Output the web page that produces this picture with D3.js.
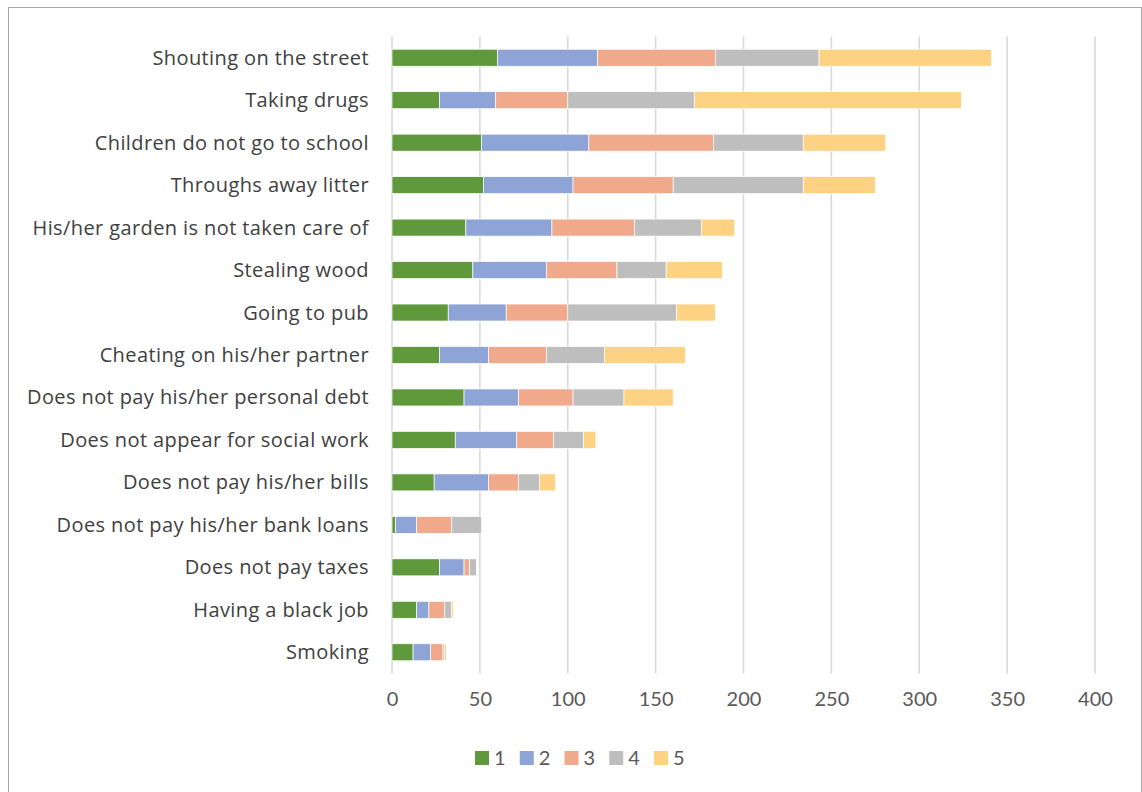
<!DOCTYPE html>
<html>
<head>
<meta charset="utf-8">
<script src="https://cdn.jsdelivr.net/npm/d3@7"></script>
<style>
  html, body { margin: 0; padding: 0; background: #fff; }
  svg { display: block; }
  text { font-family: Lato, "Open Sans", sans-serif; }
</style>
</head>
<body>
<svg id="chart" width="1142" height="792"></svg>
<script>
// Behaviours, listed top to bottom
const categories = [
  "Shouting on the street",
  "Taking drugs",
  "Children do not go to school",
  "Throughs away litter",
  "His/her garden is not taken care of",
  "Stealing wood",
  "Going to pub",
  "Cheating on his/her partner",
  "Does not pay his/her personal debt",
  "Does not appear for social work",
  "Does not pay his/her bills",
  "Does not pay his/her bank loans",
  "Does not pay taxes",
  "Having a black job",
  "Smoking"
];

// Rating series 1..5, one value per behaviour
const series1 = [60, 27, 51, 52, 42, 46, 32, 27, 41, 36, 24, 2, 27, 14, 12];
const series2 = [57, 32, 61, 51, 49, 42, 33, 28, 31, 35, 31, 12, 14, 7, 10];
const series3 = [67, 41, 71, 57, 47, 40, 35, 33, 31, 21, 17, 20, 3, 9, 7];
const series4 = [59, 72, 51, 74, 38, 28, 62, 33, 29, 17, 12, 17, 4, 4, 1];
const series5 = [98, 152, 47, 41, 19, 32, 22, 46, 28, 7, 9, 0, 0, 1, 1];

const seriesNames = ["1", "2", "3", "4", "5"];
const seriesColors = ["#60983c", "#8fa4d6", "#f0a98a", "#bebebe", "#fed283"];
const xTicks = [0, 50, 100, 150, 200, 250, 300, 350, 400];

const allSeries = [series1, series2, series3, series4, series5];
const rows = categories.map((c, i) => {
  const r = { category: c };
  seriesNames.forEach((k, j) => { r[k] = allSeries[j][i]; });
  return r;
});

const svg = d3.select("#chart");

// Outer frame
svg.append("rect")
  .attr("x", 8.5).attr("y", 7.5)
  .attr("width", 1133).attr("height", 800)
  .attr("fill", "none").attr("stroke", "#a6a6a6").attr("stroke-width", 1);

const x = d3.scaleLinear().domain([0, 400]).range([392, 1095]);
const y = d3.scaleBand().domain(categories).range([36.5, 673.5])
  .paddingInner(0.6).paddingOuter(0.3);

// Vertical gridlines
svg.append("g")
  .selectAll("line")
  .data(xTicks)
  .join("line")
  .attr("x1", d => x(d)).attr("x2", d => x(d))
  .attr("y1", 36.5).attr("y2", 673.5)
  .attr("stroke", "#d9d9d9").attr("stroke-width", 1.6);

// Stacked bars
const stacked = d3.stack().keys(seriesNames)(rows);
svg.append("g")
  .selectAll("g")
  .data(stacked)
  .join("g")
  .attr("fill", (d, i) => seriesColors[i])
  .selectAll("rect")
  .data(d => d)
  .join("rect")
  .attr("x", d => x(d[0]))
  .attr("y", d => y(d.data.category))
  .attr("width", d => Math.max(0, x(d[1]) - x(d[0])))
  .attr("height", y.bandwidth())
  .attr("stroke", "#ffffff").attr("stroke-width", 0.7);

// Category axis labels
const yAxis = d3.axisLeft(y).tickSize(0).tickPadding(0);
const gy = svg.append("g")
  .attr("transform", "translate(369,0)")
  .call(yAxis);
gy.select(".domain").remove();
gy.selectAll("text")
  .attr("fill", "#404040")
  .style("font-size", "20px")
  .style("letter-spacing", "0.4px")
  .style("font-family", "'Open Sans', Lato, sans-serif")
  .attr("dy", "0.35em");

// Value axis labels
const xAxis = d3.axisBottom(x).tickValues(xTicks).tickSize(0).tickPadding(0);
const gx = svg.append("g")
  .attr("transform", "translate(0,690)")
  .call(xAxis);
gx.select(".domain").remove();
gx.selectAll("text")
  .attr("fill", "#595959")
  .style("font-size", "20px")
  .style("font-family", "Lato, 'Open Sans', sans-serif")
  .attr("dy", "0.78em");

// Legend
const legend = svg.append("g");
const legendX = d3.scalePoint().domain(seriesNames).range([475, 654]);
const item = legend.selectAll("g")
  .data(seriesNames)
  .join("g")
  .attr("transform", d => `translate(${legendX(d)},751)`);
item.append("rect")
  .attr("width", 14).attr("height", 14)
  .attr("fill", (d, i) => seriesColors[i]);
item.append("text")
  .attr("x", 19).attr("y", 14)
  .attr("fill", "#595959")
  .style("font-size", "20px")
  .text(d => d);
</script>
</body>
</html>
